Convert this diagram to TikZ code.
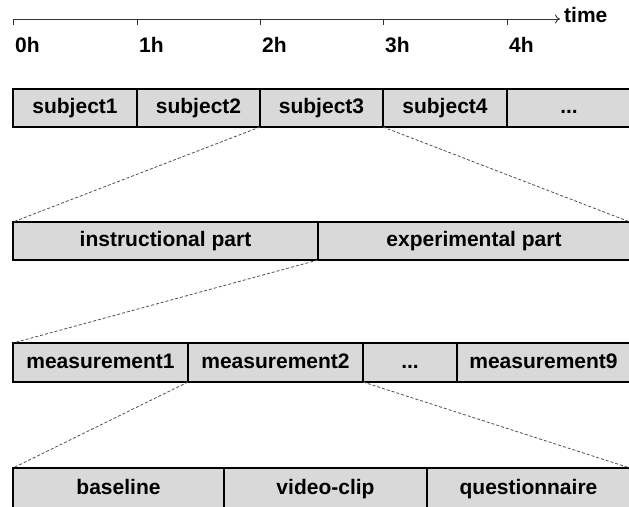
\documentclass[tikz,border=0pt]{standalone}
\usepackage{fontspec}
\setmainfont{Liberation Sans}
\usetikzlibrary{arrows.meta}
\definecolor{cellfill}{HTML}{D9D9D9}
\definecolor{dashgray}{HTML}{505050}
\begin{document}
\begin{tikzpicture}[x=1pt,y=-1pt,
  cell/.style={draw=black, line width=1.2pt, fill=cellfill, anchor=north west,
    inner sep=0pt, outer sep=0pt, text height=15pt, text depth=4pt,
    font=\fontsize{21}{24}\selectfont\bfseries},
  zoomline/.style={draw=dashgray, line width=0.8pt, dash pattern=on 3pt off 2pt},
  tick/.style={line width=0.9pt, draw=black!80},
  hlabel/.style={anchor=west, inner sep=0pt, font=\fontsize{21}{24}\selectfont\bfseries}]
\useasboundingbox (0,0) rectangle (629,506);
% time axis
\coordinate (t0) at (13,19);
\coordinate (t1) at (137,19);
\coordinate (t2) at (260,19);
\coordinate (t3) at (383,19);
\coordinate (t4) at (507,19);
\coordinate (tend) at (560,19);
\draw[tick, -{To[length=5pt,width=9pt]}] (t0) -- (tend);
\foreach \t in {t0,t1,t2,t3,t4} \draw[tick] (\t) -- ++(0,6);
\node[hlabel] (time) at (564,15) {time};
\node[hlabel] (h0) at (15,45) {0h};
\node[hlabel] (h1) at (139,45) {1h};
\node[hlabel] (h2) at (262,45) {2h};
\node[hlabel] (h3) at (385,45) {3h};
\node[hlabel] (h4) at (509,45) {4h};
% row 1
\node[cell, minimum width=124pt, minimum height=38pt] (s1) at (13,89) {subject1};
\node[cell, minimum width=123pt, minimum height=38pt] (s2) at (137,89) {subject2};
\node[cell, minimum width=123pt, minimum height=38pt] (s3) at (260,89) {subject3};
\node[cell, minimum width=124pt, minimum height=38pt] (s4) at (383,89) {subject4};
\node[cell, minimum width=124pt, minimum height=38pt] (s5) at (507,89) {...};
% row 2
\node[cell, minimum width=305pt, minimum height=38pt] (ip) at (13,222) {instructional part};
\node[cell, minimum width=312pt, minimum height=38pt] (ep) at (318,222) {experimental part};
% row 3
\node[cell, minimum width=175pt, minimum height=39pt] (m1) at (13,343) {measurement1};
\node[cell, minimum width=175pt, minimum height=39pt] (m2) at (188,343) {measurement2};
\node[cell, minimum width=94pt, minimum height=39pt] (m3) at (363,343) {...};
\node[cell, minimum width=173pt, minimum height=39pt] (m4) at (457,343) {measurement9};
% row 4
\node[cell, minimum width=211pt, minimum height=42pt] (b1) at (13,468) {baseline};
\node[cell, minimum width=203pt, minimum height=42pt] (b2) at (224,468) {video-clip};
\node[cell, minimum width=203pt, minimum height=42pt] (b3) at (427,468) {questionnaire};
% zoom lines
\draw[zoomline] (s3.south west) -- (ip.north west);
\draw[zoomline] (s3.south east) -- (ep.north east);
\draw[zoomline] (ip.south east) -- (m1.north west);
\draw[zoomline] (m2.south west) -- (b1.north west);
\draw[zoomline] (m2.south east) -- (b3.north east);
\end{tikzpicture}
\end{document}
